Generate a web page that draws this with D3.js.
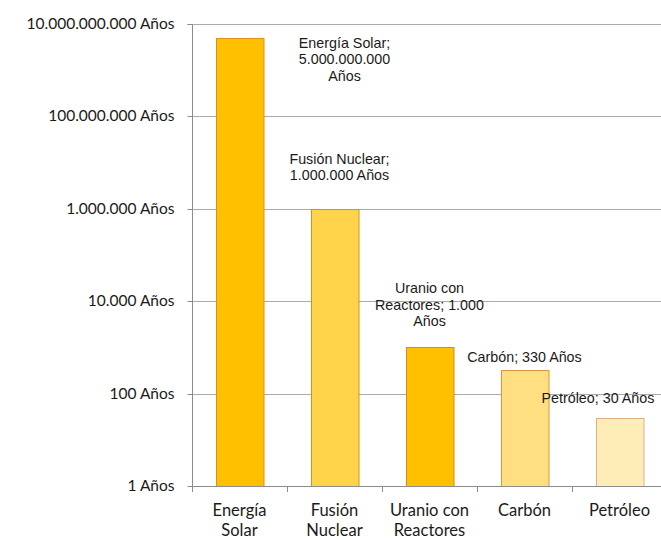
<!DOCTYPE html>
<html>
<head>
<meta charset="utf-8">
<script src="https://cdn.jsdelivr.net/npm/d3@7"></script>
<style>
  html, body { margin: 0; padding: 0; background: #fff; }
  svg { display: block; }
</style>
</head>
<body>
<svg id="chart" width="661" height="540"></svg>
<script>
// Reserves (years) by energy source
const categories = ["Energía Solar", "Fusión Nuclear", "Uranio con Reactores", "Carbón", "Petróleo"];
const axisLabels = [["Energía", "Solar"], ["Fusión", "Nuclear"], ["Uranio con", "Reactores"], ["Carbón"], ["Petróleo"]];
const values = [5000000000, 1000000, 1000, 330, 30];
const tickValues = [1, 100, 10000, 1000000, 100000000, 10000000000];
const fills = ["#FFC000", "#FFD44B", "#FFC000", "#FFDF80", "#FFEDB8"];
const strokes = ["#DE9016", "#DE9016", "#D98A1A", "#DB9440", "#DDB283"];

const svg = d3.select("#chart");
const margin = { left: 192, right: -6, top: 24, bottom: 54 };
const W = 661, H = 540;

const es = d3.formatLocale({ decimal: ",", thousands: ".", grouping: [3], currency: ["", " €"] });
const fmt = es.format(",d");

const x = d3.scaleBand().domain(categories)
  .range([margin.left, W - margin.right]).paddingInner(0.5).paddingOuter(0.25);
const y = d3.scaleLog().domain([1, 1e10]).range([H - margin.bottom, margin.top]);

const gridColor = "#ABABAB";
const axisColor = "#8C8C8C";

// horizontal gridlines
svg.append("g").selectAll("line").data(tickValues.slice(1)).join("line")
  .attr("x1", margin.left).attr("x2", W)
  .attr("y1", d => Math.round(y(d)) + 0.5).attr("y2", d => Math.round(y(d)) + 0.5)
  .attr("stroke", gridColor).attr("stroke-width", 1);

// y axis
const yAxis = d3.axisLeft(y).tickValues(tickValues).tickSize(5).tickPadding(13)
  .tickFormat(d => fmt(d) + " Años");
const gy = svg.append("g").attr("transform", `translate(${margin.left + 0.5},0.5)`).call(yAxis);
gy.select(".domain").attr("stroke", axisColor).attr("d", `M-5,${y(1e10)}H0V${y(1)}`);
gy.selectAll(".tick line").attr("stroke", axisColor);
gy.selectAll(".tick text").attr("fill", "#1a1a1a")
  .style("font-family", "Lato, 'Open Sans', sans-serif").style("font-size", "15.5px");
gy.selectAll(".tick").attr("transform", d => `translate(0,${Math.round(y(d))})`);

// bars
const base = y(1);
svg.append("g").selectAll("rect").data(values).join("rect")
  .attr("x", (d, i) => Math.round(x(categories[i])) + 0.5)
  .attr("width", x.bandwidth())
  .attr("y", d => Math.round(y(d)) + 0.5)
  .attr("height", d => base - Math.round(y(d)))
  .attr("fill", (d, i) => fills[i])
  .attr("stroke", (d, i) => strokes[i]).attr("stroke-width", 1);

// x axis
const step = x.step();
const xBoundaries = categories.map((c, i) => margin.left + i * step);
const gx = svg.append("g");
gx.append("line").attr("x1", margin.left).attr("x2", W)
  .attr("y1", Math.round(base) + 0.5).attr("y2", Math.round(base) + 0.5)
  .attr("stroke", axisColor);
gx.selectAll("line.tk").data(xBoundaries).join("line").attr("class", "tk")
  .attr("x1", d => Math.round(d) + 0.5).attr("x2", d => Math.round(d) + 0.5)
  .attr("y1", Math.round(base)).attr("y2", Math.round(base) + 6)
  .attr("stroke", axisColor);
gx.selectAll("text").data(axisLabels).join("text")
  .attr("x", (d, i) => x(categories[i]) + x.bandwidth() / 2)
  .attr("y", base + 30)
  .attr("text-anchor", "middle")
  .attr("fill", "#1a1a1a")
  .style("font-family", "Lato, 'Open Sans', sans-serif").style("font-size", "16.5px")
  .each(function (lines) {
    d3.select(this).selectAll("tspan").data(lines).join("tspan")
      .attr("x", d3.select(this).attr("x"))
      .attr("dy", (l, j) => j === 0 ? 0 : 19.5)
      .text(l => l);
  });

// data labels: category; value Años, wrapped as the chart lays them out
const labelLines = [
  [categories[0] + ";", fmt(values[0]), "Años"],
  [categories[1] + ";", fmt(values[1]) + " Años"],
  ["Uranio con", "Reactores; " + fmt(values[2]), "Años"],
  [categories[3] + "; " + fmt(values[3]) + " Años"],
  [categories[4] + "; " + fmt(values[4]) + " Años"]
];
// label anchor offsets relative to the bar centre / bar top
const labelDx = [105, 5, 0, 0, -78];
const labelDy = [0, -45, -54, -8, -15];
const labelAnchor = ["middle", "middle", "middle", "middle", "start"];

const lg = svg.append("g")
  .style("font-family", "'Liberation Sans', Arial, sans-serif").style("font-size", "14.3px")
  .attr("fill", "#1a1a1a");
labelLines.forEach((lines, i) => {
  const cx = x(categories[i]) + x.bandwidth() / 2 + labelDx[i];
  const top = i === 0 ? y(1e10) + 24 : y(values[i]) + labelDy[i];
  const t = lg.append("text").attr("text-anchor", labelAnchor[i])
    .attr("x", cx).attr("y", top);
  lines.forEach((l, j) => {
    t.append("tspan").attr("x", cx).attr("dy", j === 0 ? 0 : 16.3).text(l);
  });
});
</script>
</body>
</html>
